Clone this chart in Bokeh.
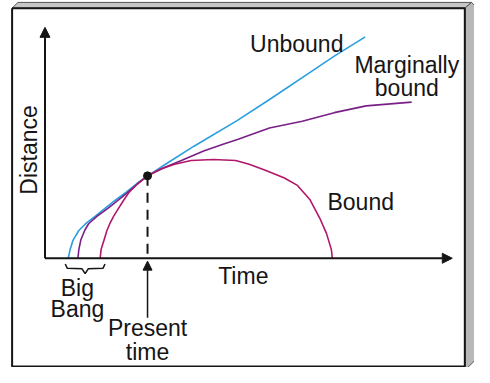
from bokeh.plotting import figure
from bokeh.models import Range1d, Label, Arrow, NormalHead
from bokeh.embed import file_html
from bokeh.resources import INLINE

# ---- data (time, distance), present epoch = (1, 1) ----
present_time = 1.0
present_distance = 1.0

unbound_t = [0.226, 0.245, 0.274, 0.330, 0.396, 0.491, 0.585, 0.679, 0.792, 0.896, 1.000,
             1.217, 1.453, 1.877, 2.208, 2.585, 2.821, 3.123]
unbound_d = [0.000, 0.105, 0.221, 0.337, 0.419, 0.512, 0.605, 0.698, 0.802, 0.907, 1.000,
             1.174, 1.360, 1.674, 1.942, 2.256, 2.453, 2.686]

marginal_t = [0.321, 0.330, 0.349, 0.387, 0.425, 0.509, 0.613, 0.708, 0.811, 0.906, 1.000,
              1.170, 1.330, 1.547, 1.736, 1.877, 2.189, 2.509, 2.821, 3.132, 3.576]
marginal_d = [0.000, 0.105, 0.221, 0.337, 0.419, 0.512, 0.605, 0.698, 0.802, 0.907, 1.000,
              1.105, 1.186, 1.302, 1.384, 1.442, 1.581, 1.663, 1.767, 1.849, 1.895]

bound_t = [0.538, 0.547, 0.576, 0.604, 0.632, 0.670, 0.717, 0.764, 0.821, 0.906, 1.000,
           1.123, 1.264, 1.425, 1.642, 1.859, 1.991, 2.142, 2.330, 2.462, 2.585, 2.679,
           2.745, 2.793, 2.802]
bound_d = [0.000, 0.105, 0.221, 0.337, 0.419, 0.512, 0.605, 0.698, 0.802, 0.907, 1.000,
           1.081, 1.140, 1.186, 1.198, 1.186, 1.140, 1.070, 0.977, 0.884, 0.709, 0.488,
           0.302, 0.105, 0.000]

t_axis_end = 3.972
d_axis_end = 2.802

BLUE = "#2a9fdf"
PURPLE = "#7b1f88"
CRIMSON = "#b0176a"
INK = "#151515"
FONT = "Liberation Sans"
FSIZE = "23px"
TEXT_SHIFT = 8  # compensation for the label baseline placement

# reference-pixel helpers for decorations (px -> data units)
def X(px):
    return (px - 46) / 106.0

def Y(py):
    return (269 - py) / 86.0

p = figure(width=474, height=367, output_backend="svg", toolbar_location=None,
           x_range=Range1d(X(0), X(490)), y_range=Range1d(Y(383), Y(0)),
           x_axis_type=None, y_axis_type=None, min_border=0)
p.outline_line_color = None
p.background_fill_color = "white"
p.border_fill_color = "white"
p.xgrid.visible = False
p.ygrid.visible = False

# ---- frame with 3D bevel ----
p.patch([X(12), X(18), X(487), X(480)], [Y(8), Y(2), Y(2), Y(8)],
        fill_color="#c6c6c6", line_color="#555555", line_width=1)
p.patch([X(480), X(487), X(490), X(490), X(483), X(480)],
        [Y(8), Y(2), Y(5), Y(376), Y(383), Y(383)],
        fill_color="#b8b8b8", line_color="#555555", line_width=1)
p.line([X(12), X(12), X(480), X(480), X(12)], [Y(8), Y(382), Y(382), Y(8), Y(8)],
       line_color=INK, line_width=2)

# ---- axes ----
p.add_layout(Arrow(end=NormalHead(size=10, fill_color=INK, line_color=INK),
                   x_start=0, y_start=0, x_end=0, y_end=d_axis_end,
                   line_color=INK, line_width=2))
p.add_layout(Arrow(end=NormalHead(size=10, fill_color=INK, line_color=INK),
                   x_start=0, y_start=0, x_end=t_axis_end, y_end=0,
                   line_color=INK, line_width=2))

# ---- curves ----
p.line(unbound_t, unbound_d, line_color=BLUE, line_width=1.6)
p.line(marginal_t, marginal_d, line_color=PURPLE, line_width=1.6)
p.line(bound_t, bound_d, line_color=CRIMSON, line_width=1.6)

# ---- present epoch ----
p.line([present_time, present_time], [present_distance, 0], line_color=INK,
       line_width=2, line_dash="10 7")
p.scatter([present_time], [present_distance], size=8, color=INK)
p.add_layout(Arrow(end=NormalHead(size=9, fill_color=INK, line_color=INK),
                   x_start=present_time, y_start=Y(331), x_end=present_time, y_end=Y(272),
                   line_color=INK, line_width=1.5))

# ---- Big Bang brace ----
bl = unbound_t[0] - X(49)
br = bound_t[0] + X(51)
bm = (bl + br) / 2
p.line([bl, bl + 0.02, bm - 0.03, bm, bm + 0.03, br - 0.02, br],
       [Y(275), Y(279.5), Y(280), Y(285), Y(280), Y(279.5), Y(275)],
       line_color=INK, line_width=1.5)

# ---- labels (positions given as baseline in reference pixels) ----
def lab(x, base_py, text, align="left"):
    p.add_layout(Label(x=x, y=Y(base_py - TEXT_SHIFT), text=text, text_font=FONT,
                       text_font_size=FSIZE, text_color=INK, text_align=align,
                       text_baseline="alphabetic"))

lab(X(258), 53, "Unbound")
lab(X(420), 75, "Marginally", "center")
lab(X(420), 99, "bound", "center")
lab(X(338), 218, "Bound")
lab(X(251), 295, "Time", "center")
lab(bm - X(54), 308, "Big", "center")
lab(bm - X(54), 330, "Bang", "center")
lab(present_time, 350, "Present", "center")
lab(present_time, 375, "time", "center")
p.add_layout(Label(x=X(37 - TEXT_SHIFT), y=Y(156), text="Distance", text_font=FONT,
                   text_font_size=FSIZE, text_color=INK, text_align="center",
                   text_baseline="alphabetic", angle=1.5707963))

open("out.html", "w").write(file_html(p, INLINE))
